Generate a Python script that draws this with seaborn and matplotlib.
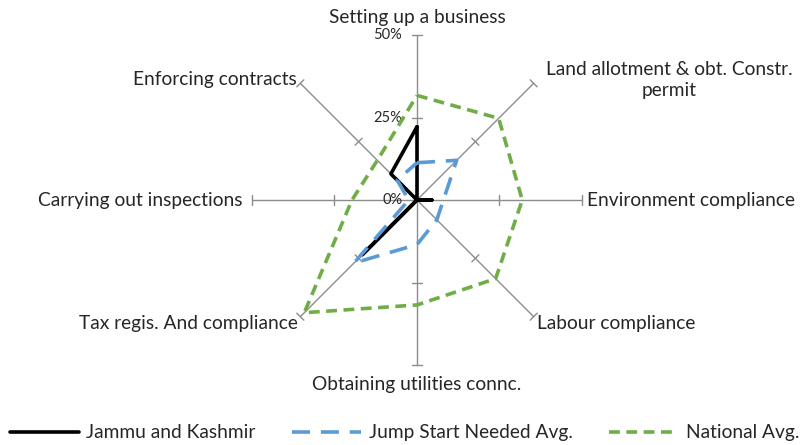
import numpy as np
import pandas as pd
import matplotlib
matplotlib.use("Agg")
import matplotlib.pyplot as plt
import seaborn as sns

# categories clockwise from the top
categories = ["Setting up a business", "Land allotment & obt. Constr.\npermit",
              "Environment compliance", "Labour compliance", "Obtaining utilities connc.",
              "Tax regis. And compliance", "Carrying out inspections", "Enforcing contracts"]
jk = [22.2, 0.0, 4.5, 0.0, 0.0, 23.4, 0.0, 11.2]
jump_start = [11.3, 17.0, 8.0, 8.5, 13.5, 27.0, 2.5, 8.5]
national = [31.7, 35.0, 31.9, 33.7, 31.8, 48.3, 19.7, 17.0]
tick_vals = [0, 25, 50]
tick_labels = ["0%", "25%", "50%"]

sns.set_style("white")
plt.rcParams["font.family"] = ["Lato", "DejaVu Sans"]

fig = plt.figure(figsize=(8.04, 4.45), dpi=100)
ax = fig.add_axes([0, 0, 1, 1])
scale = 3.3  # px per percent
cx, cy = 417, 200
ax.set_xlim(-cx / scale, (804 - cx) / scale)
ax.set_ylim(-(445 - cy) / scale, cy / scale)
ax.axis("off")

angles = np.deg2rad(90 - 45 * np.arange(len(categories)))
rmax = 50

# spokes with tick marks
for a in angles:
    ax.plot([0, rmax * np.cos(a)], [0, rmax * np.sin(a)], color="#8c8c8c", lw=1, zorder=1)
    px, py = -np.sin(a), np.cos(a)
    for t in tick_vals[1:]:
        x0, y0 = t * np.cos(a), t * np.sin(a)
        ax.plot([x0 - 1.5 * px, x0 + 1.5 * px], [y0 - 1.5 * py, y0 + 1.5 * py],
                color="#8c8c8c", lw=1, zorder=1)

for t, lab in zip(tick_vals, tick_labels):
    ax.text(-4.5, t, lab, ha="right", va="center", fontsize=10.5)

series = [("Jammu and Kashmir", jk, "black", "-"),
          ("Jump Start Needed Avg.", jump_start, "#5B9BD5", (0, (5, 3))),
          ("National Avg.", national, "#70AD47", (0, (3, 1.8)))]
for name, vals, col, ls in series:
    r = np.array(vals + vals[:1])
    a = np.append(angles, angles[0])
    df = pd.DataFrame({"x": r * np.cos(a), "y": r * np.sin(a)})
    sns.lineplot(data=df, x="x", y="y", sort=False, estimator=None, ax=ax,
                 color=col, lw=2.6, linestyle=ls, label=name, zorder=3)

# category labels
lab_fs = 13.8
ax.text(0, 55.3, categories[0], ha="center", va="center", fontsize=lab_fs)
ax.text(76.5, 36.4, categories[1], ha="center", va="center", fontsize=lab_fs,
        multialignment="center", linespacing=1.3)
ax.text(51.5, 0, categories[2], ha="left", va="center", fontsize=lab_fs)
ax.text(36.5, -37.3, categories[3], ha="left", va="center", fontsize=lab_fs)
ax.text(0, -55.8, categories[4], ha="center", va="center", fontsize=lab_fs)
ax.text(-36.2, -37.3, categories[5], ha="right", va="center", fontsize=lab_fs)
ax.text(-53, 0, categories[6], ha="right", va="center", fontsize=lab_fs)
ax.text(-36.5, 36.5, categories[7], ha="right", va="center", fontsize=lab_fs)

ax.legend(loc="center", bbox_to_anchor=(0.503, 0.027), ncol=3, frameon=False,
          fontsize=lab_fs, handlelength=3.6, handletextpad=0.4, columnspacing=1.9)

fig.savefig("out.png", dpi=100)
